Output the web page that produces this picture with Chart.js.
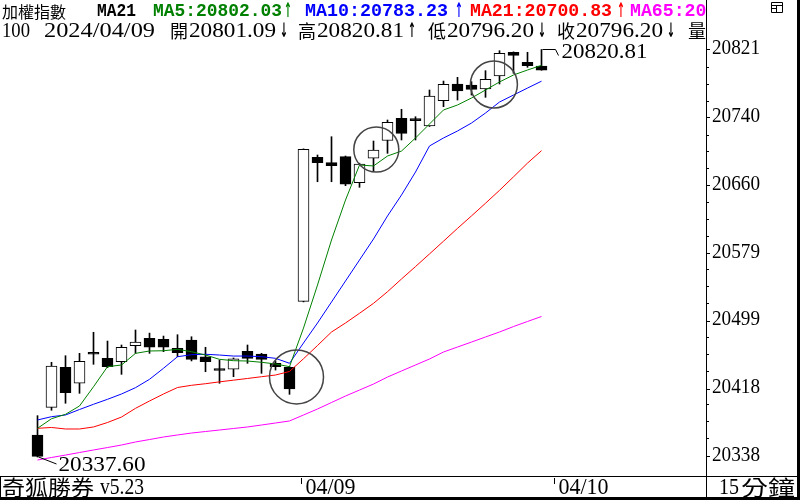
<!DOCTYPE html>
<html>
<head>
<meta charset="utf-8">
<script src="https://cdn.jsdelivr.net/npm/chart.js@4.4.1/dist/chart.umd.min.js"></script>
<style>
  html, body { margin: 0; padding: 0; background: #fff; }
  #wrap { width: 800px; height: 500px; position: relative; }
</style>
</head>
<body>
<div id="wrap"><canvas id="kline" width="800" height="500"></canvas></div>
<script>
// 15-minute candles of 加權指數, last one is 2024/04/09 close
const opens  = [20363.7, 20396.5, 20443.9, 20425.0, 20459.9, 20454.6, 20450.6, 20469.6, 20478.3, 20477.2,
                20466.5, 20476.3, 20456.5, 20441.2, 20441.6, 20462.9, 20459.7, 20448.7, 20443.9, 20522.2,
                20693.0, 20686.6, 20693.7, 20662.8, 20691.8, 20712.9, 20739.2, 20736.9, 20730.1, 20760.1,
                20779.9, 20778.7, 20774.0, 20789.4, 20817.5, 20805.6, 20801.09];
const highs  = [20386.6, 20449.9, 20457.7, 20460.5, 20485.5, 20475.1, 20470.4, 20488.2, 20484.5, 20481.0,
                20482.6, 20480.2, 20467.7, 20452.6, 20455.0, 20470.4, 20460.5, 20451.0, 20445.0, 20703.0,
                20695.7, 20717.4, 20694.5, 20686.0, 20712.3, 20737.2, 20749.9, 20741.1, 20772.8, 20783.4,
                20787.8, 20782.7, 20795.7, 20819.4, 20818.0, 20817.5, 20820.81];
const lows   = [20337.6, 20393.0, 20401.3, 20413.1, 20447.5, 20443.5, 20435.6, 20460.5, 20460.5, 20462.5,
                20456.5, 20451.5, 20438.7, 20425.0, 20432.8, 20448.7, 20436.8, 20440.7, 20411.9, 20521.5,
                20664.0, 20664.0, 20659.3, 20657.4, 20675.9, 20697.7, 20713.5, 20713.5, 20729.5, 20753.0,
                20760.9, 20766.8, 20764.1, 20779.9, 20792.6, 20799.7, 20796.20];
const closes = [20338.3, 20445.5, 20413.8, 20451.1, 20459.4, 20444.7, 20467.7, 20474.0, 20467.7, 20467.7,
                20461.3, 20453.4, 20450.6, 20440.2, 20454.1, 20454.6, 20453.4, 20444.7, 20418.2, 20702.5,
                20686.6, 20683.0, 20661.0, 20685.0, 20701.6, 20734.5, 20721.4, 20736.4, 20765.7, 20779.5,
                20771.6, 20773.6, 20785.5, 20816.3, 20813.9, 20801.6, 20796.20];

const ma5  = [20371.6, 20383.0, 20388.2, 20398.1, 20420.9, 20444.7, 20446.7, 20460.5, 20463.3, 20463.6,
              20465.3, 20462.4, 20458.5, 20453.4, 20451.8, 20451.4, 20449.9, 20447.9, 20444.7, 20490.5,
              20541.5, 20594.9, 20642.3, 20683.8, 20682.7, 20694.5, 20700.4, 20715.9, 20732.5, 20749.1,
              20755.0, 20763.3, 20772.8, 20782.3, 20790.6, 20796.5, 20802.03];
const ma10 = [20381.5, 20385.4, 20387.4, 20393.9, 20400.1, 20406.0, 20412.3, 20419.8, 20429.7, 20442.8,
              20456.5, 20458.9, 20459.4, 20458.5, 20457.3, 20457.3, 20456.5, 20454.6, 20448.7, 20472.8,
              20496.5, 20521.4, 20546.3, 20571.2, 20596.1, 20623.4, 20648.3, 20675.5, 20706.4, 20715.9,
              20724.2, 20733.6, 20745.5, 20758.5, 20766.8, 20775.1, 20783.23];
const ma21 = [20371.6, 20372.6, 20370.8, 20370.8, 20373.2, 20378.5, 20385.0, 20395.3, 20404.0, 20412.3,
              20420.0, 20422.6, 20424.5, 20426.7, 20428.7, 20430.7, 20432.8, 20434.8, 20439.0, 20454.1,
              20469.8, 20485.8, 20496.5, 20508.0, 20519.8, 20533.6, 20548.7, 20563.4, 20578.4, 20593.5,
              20608.7, 20623.5, 20638.5, 20653.8, 20669.8, 20686.1, 20700.83];
const ma65 = [20334.0, 20337.0, 20339.9, 20342.9, 20345.9, 20348.8, 20351.8, 20355.4, 20358.3, 20361.3,
              20363.7, 20366.0, 20367.8, 20369.6, 20371.4, 20373.2, 20375.5, 20377.9, 20380.3, 20387.4,
              20394.5, 20402.2, 20409.9, 20417.0, 20424.1, 20432.4, 20439.6, 20446.7, 20453.8, 20462.1,
              20468.0, 20473.9, 20479.9, 20485.8, 20492.3, 20498.3, 20504.2];

// signal circles (candle position, price)
const signalPos = [18.5, 24.2, 32.6];
const signalVal = [20432.5, 20702.2, 20779.3];

// right axis labels
const yTickValues = [20337.60, 20418.14, 20498.67, 20579.21, 20659.74, 20740.28, 20820.81];
const yMinorStep = 20;

// day separators on the time axis
const dayStartIdx = [19, 37];
const dayLabels = ['04/09', '04/10'];

// ---- layout / style (not data) ----
const PLOT_RIGHT = 706;
const PLOT_BOTTOM = 476;
const STEP = 14;          // px per candle
const FIRST_X = 37.5;     // px of first candle
const PX_PER_PT = 0.8433;
const HI_Y = 49.5;        // px of the top tick
const X_MIN = -FIRST_X / STEP;
const X_MAX = X_MIN + PLOT_RIGHT / STEP;
const Y_MAX = yTickValues[6] + HI_Y / PX_PER_PT;
const Y_MIN = yTickValues[6] - (PLOT_BOTTOM - HI_Y) / PX_PER_PT;
const SIGNAL_RADII = [27, 22.5, 23.5];

const CJK = '"Noto Sans CJK TC"';
const SERIF = '"Liberation Serif"';
const MONO = '"Liberation Mono"';

const idx = opens.map((_, i) => i);
const toXY = arr => arr.map((v, i) => ({ x: i, y: v }));
const isUp = idx.map(i => closes[i] >= opens[i]);

function fitText(ctx, text, x, yMid, w, font, color) {
  ctx.font = font;
  ctx.fillStyle = color;
  ctx.textBaseline = 'middle';
  ctx.textAlign = 'left';
  const m = ctx.measureText(text).width;
  ctx.save();
  ctx.translate(x, yMid);
  ctx.scale(w / m, 1);
  ctx.fillText(text, 0, 0);
  ctx.restore();
}

function arrow(up) { return up ? '\u2191' : '\u2193'; }
const ARROW_FONT = 'bold 20px "DejaVu Sans"';

const decor = {
  id: 'decor',
  afterDatasetsDraw(chart) {
    const ctx = chart.ctx;
    const xs = chart.scales.x, ys = chart.scales.y;
    ctx.save();
    ctx.strokeStyle = '#000';
    ctx.lineWidth = 1;

    // lowest low label
    const lo = lows.indexOf(Math.min(...lows));
    let px = xs.getPixelForValue(lo), py = ys.getPixelForValue(lows[lo]);
    ctx.beginPath();
    ctx.moveTo(px + 1, py);
    ctx.lineTo(px + 19, py + 7);
    ctx.stroke();
    fitText(ctx, lows[lo].toFixed(2), px + 21, py + 8, 87, '21px ' + SERIF, '#000');

    // highest high label
    const hi = highs.indexOf(Math.max(...highs));
    px = xs.getPixelForValue(hi); py = ys.getPixelForValue(highs[hi]);
    ctx.beginPath();
    ctx.moveTo(px + 1, py);
    ctx.lineTo(px + 14, py);
    ctx.lineTo(px + 17, py + 6);
    ctx.stroke();
    fitText(ctx, highs[hi].toFixed(2), px + 20, py + 3, 86, '21px ' + SERIF, '#000');

    // right axis labels
    for (const v of yTickValues) {
      const ty = ys.getPixelForValue(v);
      fitText(ctx, Math.round(v).toString(), PLOT_RIGHT + 6, ty - 1.5, 48, '22px ' + SERIF, '#000');
    }
    // minor ticks
    ctx.fillStyle = '#000';
    const first = Math.ceil(yTickValues[0] / yMinorStep) * yMinorStep;
    for (let v = first; v < yTickValues[6]; v += yMinorStep) {
      if (yTickValues.some(t => Math.abs(t - v) < 6)) continue;
      const ty = Math.round(ys.getPixelForValue(v));
      ctx.fillRect(PLOT_RIGHT + 1, ty, 2, 1);
    }
    ctx.restore();
  },
  afterDraw(chart) {
    const ctx = chart.ctx;
    const xs = chart.scales.x;
    const n = closes.length - 1;
    ctx.save();

    // header, clipped to the plot panel
    ctx.save();
    ctx.beginPath();
    ctx.rect(0, 0, PLOT_RIGHT, 45);
    ctx.clip();
    const y1 = 11.5, y2 = 31;
    fitText(ctx, '加權指數', 2, y1, 64, '16px ' + CJK, '#000');
    fitText(ctx, 'MA21', 97, y1, 39, 'bold 18px ' + MONO, '#000');
    const mas = [
      { name: 'MA5', arr: ma5, color: '#008000', x: 153, w: 129, ax: 284 },
      { name: 'MA10', arr: ma10, color: '#0000ff', x: 305, w: 143, ax: 455 },
      { name: 'MA21', arr: ma21, color: '#ff0000', x: 470, w: 142, ax: 617 },
      { name: 'MA65', arr: ma65, color: '#ff00ff', x: 630, w: 142, ax: 779 },
    ];
    for (const m of mas) {
      fitText(ctx, m.name + ':' + m.arr[n].toFixed(2), m.x, y1, m.w, 'bold 18px ' + MONO, m.color);
      fitText(ctx, arrow(m.arr[n] >= m.arr[n - 1]), m.ax, y1 + 0.5, 8, ARROW_FONT, m.color);
    }

    fitText(ctx, '100', 2, y2, 28, '21px ' + SERIF, '#000');
    fitText(ctx, '2024/04/09', 44, y2, 111, '21px ' + SERIF, '#000');
    const ohlc = [
      { k: '開', v: opens[n], up: opens[n] >= closes[n - 1], x: 170 },
      { k: '高', v: highs[n], up: highs[n] >= highs[n - 1], x: 298 },
      { k: '低', v: lows[n], up: lows[n] >= lows[n - 1], x: 428 },
      { k: '收', v: closes[n], up: closes[n] >= closes[n - 1], x: 557 },
    ];
    for (const o of ohlc) {
      fitText(ctx, o.k, o.x, y2 + 0.5, 18, '18px ' + CJK, '#000');
      fitText(ctx, o.v.toFixed(2), o.x + 19, y2, 87, '21px ' + SERIF, '#000');
      fitText(ctx, arrow(o.up), o.x + 110, y2 + 0.5, 8, ARROW_FONT, '#000');
    }
    fitText(ctx, '量', 688, y2 + 0.5, 18, '18px ' + CJK, '#000');
    ctx.restore();

    // frame
    ctx.strokeStyle = '#000';
    ctx.lineWidth = 1;
    ctx.beginPath();
    ctx.moveTo(0, PLOT_BOTTOM + 0.5); ctx.lineTo(800, PLOT_BOTTOM + 0.5);
    ctx.moveTo(0.5, PLOT_BOTTOM); ctx.lineTo(0.5, 500);
    ctx.moveTo(PLOT_RIGHT + 0.5, PLOT_BOTTOM); ctx.lineTo(PLOT_RIGHT + 0.5, 500);
    ctx.stroke();
    ctx.fillStyle = '#000';
    ctx.fillRect(0, 497, 800, 3);
    ctx.fillRect(797, 0, 3, 500);

    // window icon top right
    ctx.beginPath();
    ctx.rect(771.5, 2.5, 11, 10);
    ctx.moveTo(771, 5.5); ctx.lineTo(783, 5.5);
    ctx.moveTo(776.5, 6); ctx.lineTo(776.5, 12);
    ctx.moveTo(771, 8.5); ctx.lineTo(777, 8.5);
    ctx.stroke();

    // status bar
    const yb = 487.5;
    fitText(ctx, '奇狐勝券', 2, yb, 92, '21px ' + CJK, '#000');
    fitText(ctx, 'v5.23', 100, yb, 44, '24px ' + SERIF, '#000');
    dayStartIdx.forEach((d, i) => {
      const px = Math.round(xs.getPixelForValue(d)) - 1.5;
      ctx.beginPath();
      ctx.moveTo(px, 478); ctx.lineTo(px, 484);
      ctx.stroke();
      fitText(ctx, dayLabels[i], px + 4, yb, 50, '24px ' + SERIF, '#000');
    });
    fitText(ctx, '15', 719, yb, 20, '24px ' + SERIF, '#000');
    fitText(ctx, '分鐘', 741, yb, 54, '21px ' + CJK, '#000');
    ctx.restore();
  }
};

new Chart(document.getElementById('kline'), {
  type: 'bar',
  data: {
    datasets: [
      {
        type: 'line', label: 'signals', order: 0,
        data: signalPos.map((p, i) => ({ x: p, y: signalVal[i] })),
        showLine: false, pointRadius: SIGNAL_RADII, pointHoverRadius: SIGNAL_RADII,
        pointBackgroundColor: 'rgba(0,0,0,0)', pointBorderColor: '#444', pointBorderWidth: 1.5,
      },
      { type: 'line', label: 'MA5', order: 1, data: toXY(ma5), borderColor: '#008000', borderWidth: 1, pointRadius: 0, tension: 0 },
      { type: 'line', label: 'MA10', order: 1, data: toXY(ma10), borderColor: '#0000ff', borderWidth: 1, pointRadius: 0, tension: 0 },
      { type: 'line', label: 'MA21', order: 1, data: toXY(ma21), borderColor: '#ff0000', borderWidth: 1, pointRadius: 0, tension: 0 },
      { type: 'line', label: 'MA65', order: 1, data: toXY(ma65), borderColor: '#ff00ff', borderWidth: 1, pointRadius: 0, tension: 0 },
      {
        label: 'body', order: 2, grouped: false, barThickness: 11, minBarLength: 2,
        data: idx.map(i => ({ x: i, y: [opens[i], closes[i]] })),
        backgroundColor: idx.map(i => isUp[i] ? '#fff' : '#000'),
        borderColor: '#000', borderWidth: 1, borderSkipped: false,
      },
      {
        label: 'wick', order: 3, grouped: false, barThickness: 1,
        data: idx.map(i => ({ x: i, y: [lows[i], highs[i]] })),
        backgroundColor: '#000', borderWidth: 0,
      },
    ]
  },
  options: {
    responsive: false,
    animation: false,
    events: [],
    layout: { autoPadding: false, padding: { left: 0, right: 0, top: 0, bottom: 500 - PLOT_BOTTOM } },
    plugins: { legend: { display: false }, tooltip: { enabled: false } },
    scales: {
      x: { type: 'linear', min: X_MIN, max: X_MAX, offset: false, display: false },
      y: {
        position: 'right', min: Y_MIN, max: Y_MAX,
        afterFit: s => { s.width = 800 - PLOT_RIGHT; },
        afterBuildTicks: s => { s.ticks = yTickValues.map(v => ({ value: v })); },
        border: { display: true, color: '#000', width: 1 },
        grid: { drawOnChartArea: false, drawTicks: true, tickLength: 4, color: '#000' },
        ticks: { display: false },
      }
    }
  },
  plugins: [decor]
});
</script>
</body>
</html>
